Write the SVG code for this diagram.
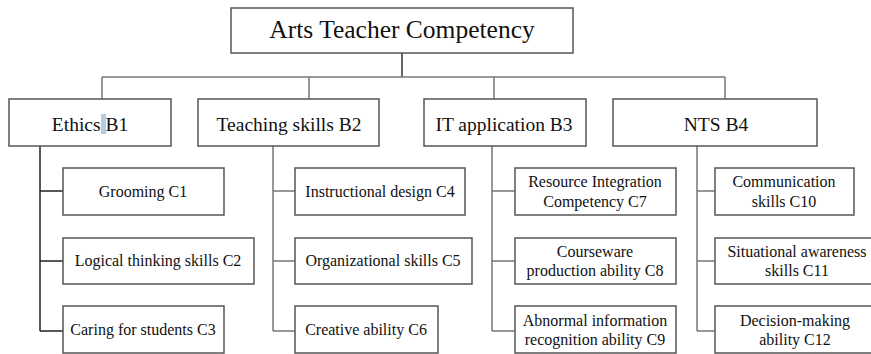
<svg xmlns="http://www.w3.org/2000/svg" width="871" height="354" viewBox="0 0 871 354" font-family="'Liberation Serif', 'DejaVu Serif', 'Times New Roman', serif">
  <style>
    .box { fill: #fff; stroke: #555; stroke-width: 1.5; }
    .ln { fill: none; stroke: #777; stroke-width: 1.5; }
    text { font-family: 'Liberation Serif', 'DejaVu Serif', 'Times New Roman', serif; fill: #111; text-anchor: middle; }
    .top { font-size: 25.5px; }
    .mid { font-size: 19.5px; }
    .leaf { font-size: 16px; }
  </style>
  <rect width="871" height="354" fill="#fff"/>

  <g id="connectors">
    <path class="ln" style="stroke:#333" d="M402 53 V77"/>
    <path class="ln" d="M102 77 H725"/>
    <path class="ln" d="M102 77 V99 M309 77 V99 M494 77 V99 M725 77 V99"/>
    <!-- B1 trunk -->
    <path class="ln" style="stroke:#222" d="M40 146 V331 M40 191 H63 M40 261 H63 M40 331 H63"/>
    <!-- B2 trunk -->
    <path class="ln" d="M273 146 V331 M273 191 H295 M273 261 H295 M273 331 H295"/>
    <!-- B3 trunk -->
    <path class="ln" d="M492 146 V331 M492 191 H515 M492 261 H515 M492 331 H515"/>
    <!-- B4 trunk -->
    <path class="ln" d="M697 146 V331 M697 191 H715 M697 261 H715 M697 331 H715"/>
  </g>

  <g id="root">
    <rect class="box" x="231" y="8" width="342" height="45"/>
    <text class="top" x="402" y="38">Arts Teacher Competency</text>
  </g>

  <g id="b1">
    <rect class="box" x="9" y="99" width="162" height="47"/>
    <rect x="101" y="114" width="5" height="20" fill="#9fbfdc" opacity="0.8"/>
    <text class="mid" x="90" y="131">Ethics B1</text>
  </g>
  <g id="b2">
    <rect class="box" x="198" y="99" width="181" height="47"/>
    <text class="mid" x="289" y="131">Teaching skills B2</text>
  </g>
  <g id="b3">
    <rect class="box" x="424" y="99" width="162" height="47"/>
    <text class="mid" x="504" y="131">IT application B3</text>
  </g>
  <g id="b4">
    <rect class="box" x="613" y="99" width="204" height="47"/>
    <text class="mid" x="716" y="131">NTS B4</text>
  </g>

  <g id="c1">
    <rect class="box" x="63" y="168" width="161" height="47"/>
    <text class="leaf" x="143" y="197">Grooming C1</text>
  </g>
  <g id="c2">
    <rect class="box" x="63" y="238" width="191" height="46"/>
    <text class="leaf" x="158" y="266">Logical thinking skills C2</text>
  </g>
  <g id="c3">
    <rect class="box" x="63" y="306" width="161" height="47"/>
    <text class="leaf" x="143" y="335">Caring for students C3</text>
  </g>

  <g id="c4">
    <rect class="box" x="295" y="168" width="170" height="47"/>
    <text class="leaf" x="380" y="197">Instructional design C4</text>
  </g>
  <g id="c5">
    <rect class="box" x="295" y="238" width="177" height="46"/>
    <text class="leaf" x="383" y="266">Organizational skills C5</text>
  </g>
  <g id="c6">
    <rect class="box" x="295" y="306" width="143" height="47"/>
    <text class="leaf" x="366" y="335">Creative ability C6</text>
  </g>

  <g id="c7">
    <rect class="box" x="515" y="168" width="161" height="47"/>
    <text class="leaf" x="595" y="187">Resource Integration</text>
    <text class="leaf" x="595" y="207">Competency C7</text>
  </g>
  <g id="c8">
    <rect class="box" x="515" y="238" width="161" height="46"/>
    <text class="leaf" x="595" y="257">Courseware</text>
    <text class="leaf" x="595" y="276">production ability C8</text>
  </g>
  <g id="c9">
    <rect class="box" x="515" y="306" width="161" height="47"/>
    <text class="leaf" x="595" y="326">Abnormal information</text>
    <text class="leaf" x="595" y="345">recognition ability C9</text>
  </g>

  <g id="c10">
    <rect class="box" x="715" y="168" width="139" height="47"/>
    <text class="leaf" x="784" y="187">Communication</text>
    <text class="leaf" x="784" y="207">skills C10</text>
  </g>
  <g id="c11">
    <rect class="box" x="715" y="238" width="160" height="46"/>
    <text class="leaf" x="797" y="257">Situational awareness</text>
    <text class="leaf" x="797" y="276">skills C11</text>
  </g>
  <g id="c12">
    <rect class="box" x="715" y="306" width="160" height="47"/>
    <text class="leaf" x="795" y="326">Decision-making</text>
    <text class="leaf" x="795" y="345">ability C12</text>
  </g>
</svg>
